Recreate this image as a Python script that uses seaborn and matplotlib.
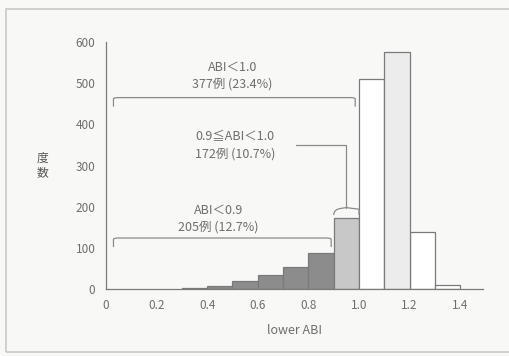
import numpy as np
import pandas as pd
import matplotlib
matplotlib.use("Agg")
import matplotlib.pyplot as plt
import seaborn as sns
from matplotlib.patches import Rectangle
from matplotlib.path import Path
from matplotlib.patches import PathPatch

bin_left = [0.3, 0.4, 0.5, 0.6, 0.7, 0.8, 0.9, 1.0, 1.1, 1.2, 1.3]
counts = [3, 8, 20, 34, 53, 87, 172, 510, 575, 139, 10]
group = ["lt09"] * 6 + ["09to10", "ge10", "mid", "ge10", "ge10"]
colors = {"lt09": "#8c8c8c", "09to10": "#c8c8c8", "ge10": "#ffffff", "mid": "#ececec"}

xticks = [0, 0.2, 0.4, 0.6, 0.8, 1.0, 1.2, 1.4]
xticklabels = ["0", "0.2", "0.4", "0.6", "0.8", "1.0", "1.2", "1.4"]
yticks = [0, 100, 200, 300, 400, 500, 600]

label_lt10 = "ABI＜1.0\n377例 (23.4%)"
label_mid = "0.9≦ABI＜1.0\n172例 (10.7%)"
label_lt09 = "ABI＜0.9\n205例 (12.7%)"

df = pd.DataFrame({"left": bin_left, "count": counts, "group": group})
df["center"] = df["left"] + 0.05

sns.set_style("white")
plt.rcParams["font.family"] = ["Noto Sans CJK JP", "DejaVu Sans"]

fig = plt.figure(figsize=(5.09, 3.56), dpi=100, facecolor="#f8f8f6")
ax = fig.add_axes([0.208, 0.188, 0.741, 0.694])
ax.set_facecolor("#f8f8f6")

edge = "#7a7a7a"
txt = "#6e6e6e"
for g in ["lt09", "09to10", "ge10", "mid"]:
    sub = df[df["group"] == g]
    ax.bar(sub["center"], sub["count"], width=0.1, color=colors[g],
           edgecolor=edge, linewidth=0.9, zorder=2)

ax.set_xlim(0, 1.49)
ax.set_ylim(0, 600)
ax.set_xticks(xticks)
ax.set_xticklabels(xticklabels)
ax.set_xticks(np.arange(0.1, 1.5, 0.2), minor=True)
ax.set_yticks(yticks)
ax.tick_params(axis="both", which="major", direction="out", length=4, width=0.8,
               color=edge, labelcolor=txt, labelsize=8.5)
ax.tick_params(axis="x", which="minor", direction="out", length=2, width=0.6, color=edge)
for s in ["top", "right"]:
    ax.spines[s].set_visible(False)
for s in ["left", "bottom"]:
    ax.spines[s].set_color(edge)
    ax.spines[s].set_linewidth(0.9)

ax.set_xlabel("lower ABI", color=txt, fontsize=9, labelpad=8)
ax.text(-0.25, 300, "度\n数", ha="center", va="center", color="#555555",
        fontsize=8.5, linespacing=1.2, transform=ax.transData, clip_on=False)

lc = "#8a8a8a"

def bracket(x0, x1, y, drop=18, r=0.02):
    verts = [(x0, y - drop), (x0, y - 3), (x0, y), (x0 + r, y),
             (x1 - r, y), (x1, y), (x1, y - 3), (x1, y - drop)]
    codes = [Path.MOVETO, Path.LINETO, Path.CURVE3, Path.CURVE3,
             Path.LINETO, Path.CURVE3, Path.CURVE3, Path.LINETO]
    ax.add_patch(PathPatch(Path(verts, codes), fill=False, edgecolor=lc, lw=0.9,
                           zorder=3, clip_on=False))

# ABI<1.0 bracket
bracket(0.03, 0.985, 465, drop=22)
ax.text(0.5, 519, label_lt10, ha="center", va="center", color=txt,
        fontsize=9, linespacing=1.35)
# ABI<0.9 bracket
bracket(0.03, 0.89, 124, drop=22)
ax.text(0.445, 170, label_lt09, ha="center", va="center", color=txt,
        fontsize=9, linespacing=1.35)
# 0.9<=ABI<1.0 brace
bx0, bx1 = bin_left[6], bin_left[6] + 0.1
bm = (bx0 + bx1) / 2
by = counts[6] + 8
verts = [(bx0, by), (bx0, by + 14), (bm - 0.02, by + 16), (bm, by + 18),
         (bm + 0.02, by + 16), (bx1, by + 14), (bx1, by)]
codes = [Path.MOVETO, Path.CURVE3, Path.CURVE3, Path.LINETO,
         Path.CURVE3, Path.CURVE3, Path.LINETO]
ax.add_patch(PathPatch(Path(verts, codes), fill=False, edgecolor=lc, lw=0.9, zorder=3))
ax.plot([bm, bm, 0.75], [by + 18, 350, 350], color=lc, lw=0.9, zorder=3)
ax.text(0.51, 349, label_mid, ha="center", va="center", color=txt,
        fontsize=9, linespacing=1.35)

fig.patches.append(Rectangle((0.012, 0.012), 1.2, 0.962, transform=fig.transFigure,
                             fill=False, edgecolor="#c8c8c8", lw=1.2))

fig.savefig("out.png", dpi=100, facecolor=fig.get_facecolor())
